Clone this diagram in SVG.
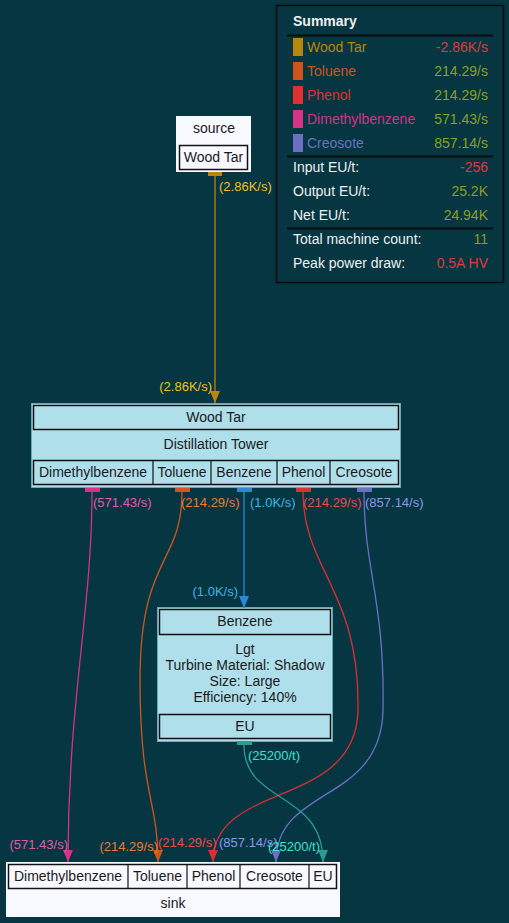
<svg xmlns="http://www.w3.org/2000/svg" width="509" height="923" viewBox="0 0 509 923">
<defs>
<style>
text{font-family:"Liberation Sans",Arial,sans-serif;}
.n{font-size:14px;fill:#1a1a1a;text-anchor:middle;}
.lbl{font-size:13px;}
.s{font-size:14px;}
.w{fill:#f0f0f0;}
.v{fill:#8f9f1e;text-anchor:end;}
.neg{fill:#e03a3a;text-anchor:end;}
.box{fill:none;stroke:#111;stroke-width:1.5;}
.cell{fill:none;stroke:#111;stroke-width:1.2;}
.e{fill:none;stroke-width:1.3;}
</style>
<marker id="aGold" viewBox="0 0 12 10" refX="12" refY="5" markerWidth="12" markerHeight="10" markerUnits="userSpaceOnUse" orient="auto"><path d="M0,0L12,5L0,10z" fill="#b8860b"/></marker>
<marker id="aPink" viewBox="0 0 12 10" refX="12" refY="5" markerWidth="12" markerHeight="10" markerUnits="userSpaceOnUse" orient="auto"><path d="M0,0L12,5L0,10z" fill="#d63384"/></marker>
<marker id="aOrange" viewBox="0 0 12 10" refX="12" refY="5" markerWidth="12" markerHeight="10" markerUnits="userSpaceOnUse" orient="auto"><path d="M0,0L12,5L0,10z" fill="#d0561c"/></marker>
<marker id="aBlue" viewBox="0 0 12 10" refX="12" refY="5" markerWidth="12" markerHeight="10" markerUnits="userSpaceOnUse" orient="auto"><path d="M0,0L12,5L0,10z" fill="#2b88d6"/></marker>
<marker id="aRed" viewBox="0 0 12 10" refX="12" refY="5" markerWidth="12" markerHeight="10" markerUnits="userSpaceOnUse" orient="auto"><path d="M0,0L12,5L0,10z" fill="#dc2f2f"/></marker>
<marker id="aPurple" viewBox="0 0 12 10" refX="12" refY="5" markerWidth="12" markerHeight="10" markerUnits="userSpaceOnUse" orient="auto"><path d="M0,0L12,5L0,10z" fill="#6c70c4"/></marker>
<marker id="aTeal" viewBox="0 0 12 10" refX="12" refY="5" markerWidth="12" markerHeight="10" markerUnits="userSpaceOnUse" orient="auto"><path d="M0,0L12,5L0,10z" fill="#2a9d8f"/></marker>
</defs>
<rect width="509" height="923" fill="#053641"/>

<g id="summary">
<rect x="276.5" y="5.5" width="227" height="277" fill="#053641" stroke="#0b0b0b" stroke-width="1.5"/>
<text x="293" y="26" class="s w" font-weight="bold">Summary</text>
<line x1="287" y1="35.5" x2="493" y2="35.5" stroke="#0b0b0b" stroke-width="2"/>
<rect x="293" y="38" width="10" height="18" fill="#b8860b"/>
<text x="307" y="52" class="s" fill="#b8860b">Wood Tar</text>
<text x="488" y="52" class="s neg">-2.86K/s</text>
<rect x="293" y="62" width="10" height="18" fill="#d2521e"/>
<text x="307" y="76" class="s" fill="#d2521e">Toluene</text>
<text x="488" y="76" class="s v">214.29/s</text>
<rect x="293" y="86" width="10" height="18" fill="#e03030"/>
<text x="307" y="100" class="s" fill="#e03030">Phenol</text>
<text x="488" y="100" class="s v">214.29/s</text>
<rect x="293" y="110" width="10" height="18" fill="#d63384"/>
<text x="307" y="124" class="s" fill="#d63384">Dimethylbenzene</text>
<text x="488" y="124" class="s v">571.43/s</text>
<rect x="293" y="134" width="10" height="18" fill="#6c70c4"/>
<text x="307" y="148" class="s" fill="#6c70c4">Creosote</text>
<text x="488" y="148" class="s v">857.14/s</text>
<line x1="287" y1="156.5" x2="493" y2="156.5" stroke="#0b0b0b" stroke-width="2"/>
<text x="293" y="172" class="s w">Input EU/t:</text>
<text x="488" y="172" class="s neg">-256</text>
<text x="293" y="196" class="s w">Output EU/t:</text>
<text x="488" y="196" class="s v">25.2K</text>
<text x="293" y="220" class="s w">Net EU/t:</text>
<text x="488" y="220" class="s v">24.94K</text>
<line x1="287" y1="228.5" x2="493" y2="228.5" stroke="#0b0b0b" stroke-width="2"/>
<text x="293" y="244" class="s w">Total machine count:</text>
<text x="488" y="244" class="s v">11</text>
<text x="293" y="268" class="s w">Peak power draw:</text>
<text x="488" y="268" class="s neg">0.5A HV</text>
</g>

<g id="source">
<rect x="176" y="116" width="75" height="56" fill="#f8f8ff"/>
<text x="214" y="133" class="n">source</text>
<rect x="179.5" y="145.5" width="68" height="24" class="box"/>
<text x="213.5" y="162" class="n">Wood Tar</text>
</g>

<g id="distillation">
<rect x="31.5" y="403.5" width="369" height="84" fill="#b0dfec" stroke="#6aa8b4" stroke-width="1"/>
<rect x="33.5" y="405.5" width="365" height="24" class="box"/>
<text x="216" y="422" class="n">Wood Tar</text>
<text x="216" y="449" class="n">Distillation Tower</text>
<rect x="33.5" y="460.5" width="365" height="24" class="box"/>
<line x1="153" y1="460.5" x2="153" y2="484.5" class="cell"/>
<line x1="211" y1="460.5" x2="211" y2="484.5" class="cell"/>
<line x1="277" y1="460.5" x2="277" y2="484.5" class="cell"/>
<line x1="330" y1="460.5" x2="330" y2="484.5" class="cell"/>
<text x="93" y="477" class="n">Dimethylbenzene</text>
<text x="182" y="477" class="n">Toluene</text>
<text x="244" y="477" class="n">Benzene</text>
<text x="303.5" y="477" class="n">Phenol</text>
<text x="364" y="477" class="n">Creosote</text>
</g>

<g id="lgt">
<rect x="157.5" y="607.5" width="175" height="134" fill="#b0dfec" stroke="#6aa8b4" stroke-width="1"/>
<rect x="159.5" y="609.5" width="171" height="25" class="box"/>
<text x="245" y="626" class="n">Benzene</text>
<text x="245" y="654" class="n">Lgt</text>
<text x="245" y="670" class="n">Turbine Material: Shadow</text>
<text x="245" y="686" class="n">Size: Large</text>
<text x="245" y="702" class="n">Efficiency: 140%</text>
<rect x="159.5" y="714.5" width="171" height="24" class="box"/>
<text x="245" y="731" class="n">EU</text>
</g>

<g id="sink">
<rect x="6" y="862" width="334" height="55" fill="#f8f8ff"/>
<rect x="8.5" y="864.5" width="328" height="24" class="box"/>
<line x1="128" y1="864.5" x2="128" y2="888.5" class="cell"/>
<line x1="187" y1="864.5" x2="187" y2="888.5" class="cell"/>
<line x1="240" y1="864.5" x2="240" y2="888.5" class="cell"/>
<line x1="309" y1="864.5" x2="309" y2="888.5" class="cell"/>
<text x="68" y="881" class="n">Dimethylbenzene</text>
<text x="157.5" y="881" class="n">Toluene</text>
<text x="213.5" y="881" class="n">Phenol</text>
<text x="274.5" y="881" class="n">Creosote</text>
<text x="323" y="881" class="n">EU</text>
<text x="173" y="908" class="n">sink</text>
</g>

<g id="connectors">
<rect x="208" y="172" width="14" height="4" fill="#b8860b"/>
<path d="M215,176 L215,403" class="e" stroke="#b8860b" marker-end="url(#aGold)"/>
<text x="219" y="191" class="lbl" fill="#f0c020">(2.86K/s)</text>
<text x="212" y="391" class="lbl" fill="#f0c020" text-anchor="end">(2.86K/s)</text>

<rect x="85" y="488" width="15" height="4" fill="#d63384"/>
<path d="M92,492 C92,610 68,700 68,862" class="e" stroke="#d63384" marker-end="url(#aPink)"/>
<text x="93" y="507" class="lbl" fill="#e55aa8">(571.43/s)</text>
<text x="68" y="849" class="lbl" fill="#e55aa8" text-anchor="end">(571.43/s)</text>

<rect x="175" y="488" width="15" height="4" fill="#d0561c"/>
<path d="M182,492 C182,565 140,555 140,680 C140,795 158,800 158,862" class="e" stroke="#d0561c" marker-end="url(#aOrange)"/>
<text x="181" y="507" class="lbl" fill="#f07a30">(214.29/s)</text>
<text x="158" y="851" class="lbl" fill="#f07a30" text-anchor="end">(214.29/s)</text>

<rect x="237" y="488" width="15" height="4" fill="#2b88d6"/>
<path d="M244,492 L244,608" class="e" stroke="#2b88d6" marker-end="url(#aBlue)"/>
<text x="250" y="507" class="lbl" fill="#3cb6e6">(1.0K/s)</text>
<text x="238" y="596" class="lbl" fill="#3cb6e6" text-anchor="end">(1.0K/s)</text>

<rect x="296" y="488" width="15" height="4" fill="#dc2f2f"/>
<path d="M303,492 C303,570 360,590 358,710 C356,810 213,780 213,862" class="e" stroke="#dc2f2f" marker-end="url(#aRed)"/>
<text x="303" y="507" class="lbl" fill="#f04848">(214.29/s)</text>
<text x="158" y="847" class="lbl" fill="#f04848">(214.29/s)</text>

<rect x="357" y="488" width="15" height="4" fill="#6c70c4"/>
<path d="M364,492 C364,570 385,600 383,710 C381,805 276,785 276,862" class="e" stroke="#6c70c4" marker-end="url(#aPurple)"/>
<text x="365" y="507" class="lbl" fill="#8f96e8">(857.14/s)</text>
<text x="219" y="847" class="lbl" fill="#8f96e8">(857.14/s)</text>

<rect x="237" y="741" width="15" height="4" fill="#2a9d8f"/>
<path d="M244,745 C244,805 323,790 323,862" class="e" stroke="#2a9d8f" marker-end="url(#aTeal)"/>
<text x="248" y="760" class="lbl" fill="#40e0d0">(25200/t)</text>
<text x="268" y="851" class="lbl" fill="#40e0d0">(25200/t)</text>
</g>
</svg>
